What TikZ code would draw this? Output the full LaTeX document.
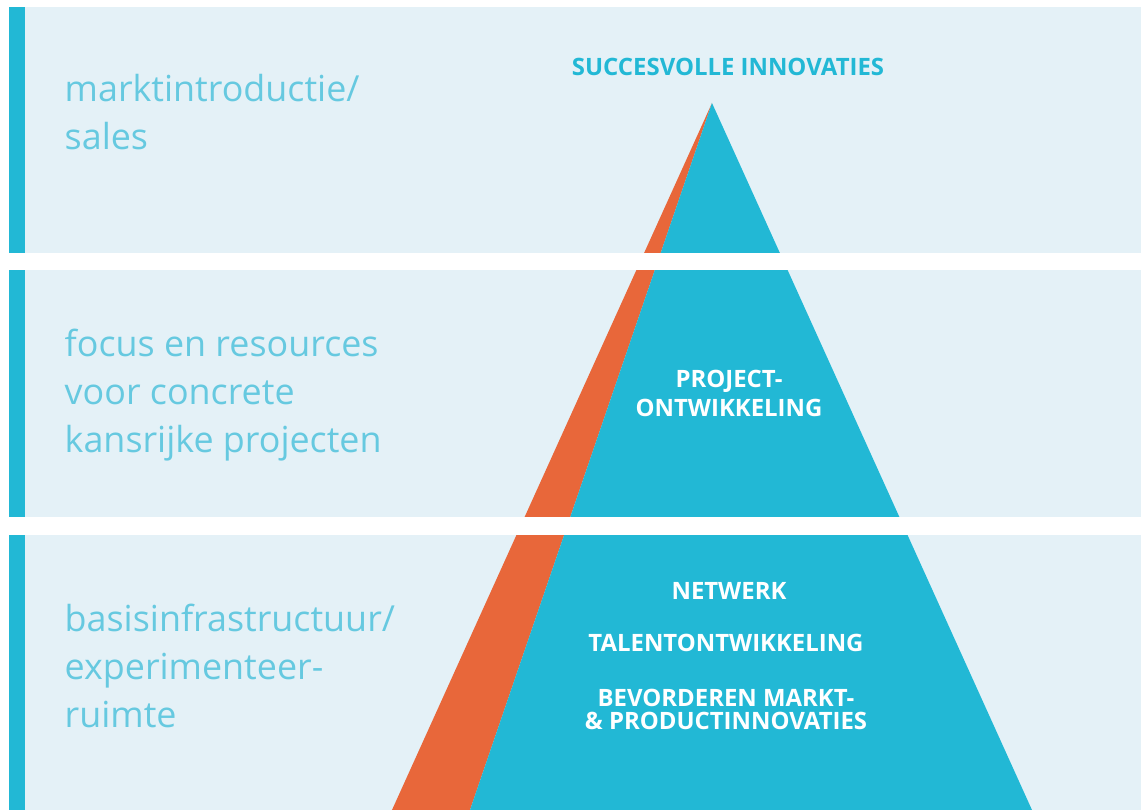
\documentclass[tikz,border=0pt]{standalone}
\usepackage{fontspec}
\setmainfont{Open Sans}
\definecolor{bandbg}{HTML}{E4F1F7}
\definecolor{pyrblue}{HTML}{22B8D5}
\definecolor{pyrorange}{HTML}{E8673A}
\definecolor{sidetext}{HTML}{66C9E0}

\begin{document}
\begin{tikzpicture}[x=0.01cm,y=-0.01cm,
    sidelabel/.style={anchor=base west, align=left, inner sep=0pt, text=sidetext,
      font=\fontsize{10.2}{13.7}\selectfont},
    pyrlabel/.style={anchor=base, align=center, inner sep=0pt, text=white,
      font=\bfseries\fontsize{6.8}{8.3}\selectfont}]
			%%%%% BANDS %%%%%
			\useasboundingbox (0,0) rectangle (1141,810);
			\fill[white] (0,0) rectangle (1141,810);
			\fill[bandbg] (9,7) rectangle (1141,810);
			
			%%%%% PYRAMID %%%%%
			\coordinate (top) at (712,103);
			\coordinate (orangefoot) at (392,810);
			\coordinate (bluefoot) at (470,810);
			\coordinate (rightfoot) at (1032,810);
			\fill[pyrorange] (top) -- (orangefoot) -- (bluefoot) -- cycle;
			\fill[pyrblue] (top) -- (bluefoot) -- (rightfoot) -- cycle;
			
			% white gaps between the bands
			\fill[white] (0,253) rectangle (1141,270);
			\fill[white] (0,517) rectangle (1141,535);
			
			% blue bar on the left
			\fill[pyrblue] (9,7) rectangle (25,253);
			\fill[pyrblue] (9,270) rectangle (25,517);
			\fill[pyrblue] (9,535) rectangle (25,810);
			
			%%%%% LABELS %%%%%
			% (base of a multi-line node = last line)
			\node[sidelabel] (sales) at (64,150) {marktintroductie/\\sales};
			\node[sidelabel] (focus) at (64,453) {focus en resources\\voor concrete\\kansrijke projecten};
			\node[sidelabel] (basis) at (64,728) {basisinfrastructuur/\\experimenteer-\\ruimte};
			
			\node[pyrlabel, text=pyrblue] (succes) at (728,76) {SUCCESVOLLE INNOVATIES};
			\node[pyrlabel] (project) at (729,417) {PROJECT-\\ONTWIKKELING};
			\node[pyrlabel] (netwerk) at (729,600) {NETWERK};
			\node[pyrlabel] (talent) at (726,652) {TALENTONTWIKKELING};
			\node[pyrlabel, font=\bfseries\fontsize{6.8}{6.6}\selectfont] (bevorderen) at (726,730) {BEVORDEREN MARKT-\\\& PRODUCTINNOVATIES};
			
		\end{tikzpicture}
\end{document}
